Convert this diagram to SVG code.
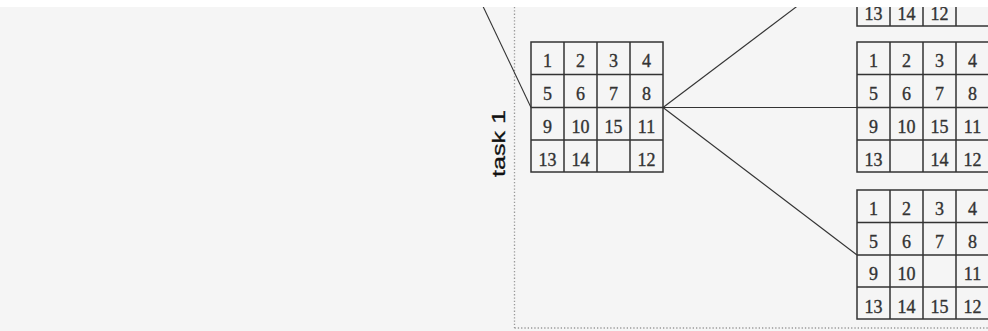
<svg xmlns="http://www.w3.org/2000/svg" width="988" height="331" viewBox="0 0 988 331">
<style>
.bg{fill:#f5f5f5}
.grid rect{fill:none;stroke:#333;stroke-width:1.5}
.grid path{fill:none;stroke:#333;stroke-width:1.5}
.grid text{font-family:"Liberation Serif","Times New Roman",serif;font-size:18px;fill:#333;stroke:#333;stroke-width:0.35;text-anchor:middle}
.conn{stroke:#333;stroke-width:1.1;fill:none}
.dot{stroke:#999;stroke-width:1.3;stroke-dasharray:1.3 2;fill:none}
.label{font-family:"Liberation Sans",Arial,sans-serif;font-size:19px;fill:#111;stroke:#111;stroke-width:0.3}
</style>
<rect class="bg" x="0" y="0" width="988" height="331"/>
<g id="frame">
<path class="dot" d="M514.5 7V328"/>
<path class="dot" d="M514.5 328H988"/>
</g>
<text id="task-label" class="label" transform="translate(505,177) rotate(-90)" x="0" y="0" textLength="67" lengthAdjust="spacingAndGlyphs">task 1</text>
<g id="connectors">
<path class="conn" d="M531 107.5L480 0"/>
<path class="conn" d="M663 107.5L857 -39"/>
<path class="conn" d="M663 107.5H857"/>
<path class="conn" d="M663 107.5L857 255"/>
</g>
<g id="node-main" class="grid">
<rect x="531" y="42" width="132" height="130"/>
<path d="M564 42V172M597 42V172M630 42V172M531 74.5H663M531 107.5H663M531 140H663"/>
<text x="547.5" y="67">1</text>
<text x="580.5" y="67">2</text>
<text x="613.5" y="67">3</text>
<text x="646.5" y="67">4</text>
<text x="547.5" y="100">5</text>
<text x="580.5" y="100">6</text>
<text x="613.5" y="100">7</text>
<text x="646.5" y="100">8</text>
<text x="547.5" y="132.5">9</text>
<text x="580.5" y="132.5">10</text>
<text x="613.5" y="132.5">15</text>
<text x="646.5" y="132.5">11</text>
<text x="547.5" y="166">13</text>
<text x="580.5" y="166">14</text>
<text x="646.5" y="166">12</text>
</g>
<g id="node-top" class="grid">
<rect x="857" y="-104" width="132" height="130"/>
<path d="M890 -104V26M923 -104V26M956 -104V26M857 -71.5H989M857 -39H989M857 -6.5H989"/>
<text x="873.5" y="19.5">13</text>
<text x="906.5" y="19.5">14</text>
<text x="939.5" y="19.5">12</text>
</g>
<g id="node-middle" class="grid">
<rect x="857" y="42" width="132" height="130"/>
<path d="M890 42V172M923 42V172M956 42V172M857 74.5H989M857 107.5H989M857 140H989"/>
<text x="873.5" y="67">1</text>
<text x="906.5" y="67">2</text>
<text x="939.5" y="67">3</text>
<text x="972.5" y="67">4</text>
<text x="873.5" y="100">5</text>
<text x="906.5" y="100">6</text>
<text x="939.5" y="100">7</text>
<text x="972.5" y="100">8</text>
<text x="873.5" y="132.5">9</text>
<text x="906.5" y="132.5">10</text>
<text x="939.5" y="132.5">15</text>
<text x="972.5" y="132.5">11</text>
<text x="873.5" y="166">13</text>
<text x="939.5" y="166">14</text>
<text x="972.5" y="166">12</text>
</g>
<g id="node-bottom" class="grid">
<rect x="857" y="190" width="132" height="129"/>
<path d="M890 190V319M923 190V319M956 190V319M857 222.5H989M857 255H989M857 287H989"/>
<text x="873.5" y="215">1</text>
<text x="906.5" y="215">2</text>
<text x="939.5" y="215">3</text>
<text x="972.5" y="215">4</text>
<text x="873.5" y="247.5">5</text>
<text x="906.5" y="247.5">6</text>
<text x="939.5" y="247.5">7</text>
<text x="972.5" y="247.5">8</text>
<text x="873.5" y="280">9</text>
<text x="906.5" y="280">10</text>
<text x="972.5" y="280">11</text>
<text x="873.5" y="312.5">13</text>
<text x="906.5" y="312.5">14</text>
<text x="939.5" y="312.5">15</text>
<text x="972.5" y="312.5">12</text>
</g>
<rect id="top-band" x="0" y="0" width="988" height="7" fill="#ffffff"/>
</svg>
